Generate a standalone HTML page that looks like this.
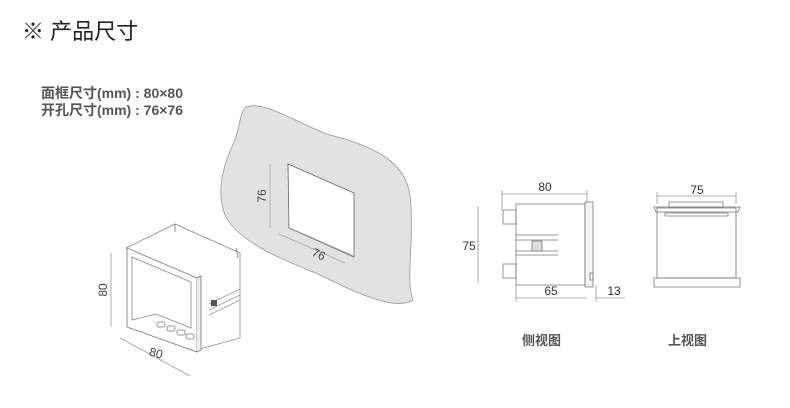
<!DOCTYPE html>
<html><head><meta charset="utf-8"><style>
body{margin:0;background:#fff;width:790px;height:408px;overflow:hidden;position:relative;font-family:"Liberation Sans","Noto Sans CJK SC",sans-serif}
.t{position:absolute;color:#333}
</style></head><body>
<div class="t" style="left:22px;top:14px;font-size:22px;color:#222">※ 产品尺寸</div>
<div class="t" style="left:41px;top:85px;font-size:14px;font-weight:bold;color:#555;line-height:17px">面框尺寸(mm) : 80×80<br>开孔尺寸(mm) : 76×76</div>
<div class="t" style="left:522px;top:330px;font-size:13px;font-weight:bold;color:#555">侧视图</div>
<div class="t" style="left:668px;top:330px;font-size:13px;font-weight:bold;color:#555">上视图</div>
<svg width="790" height="408" style="position:absolute;left:0;top:0" font-family="Liberation Sans,sans-serif" fill="none" stroke="#777" stroke-width="0.8">
<path d="M246,107 C265,100 300,125 330,135 C370,145 405,160 410,195 C415,240 405,280 413,300 C395,312 350,290 320,275 C290,262 240,245 225,215 C215,190 225,160 235,140 C240,125 240,112 246,107 Z" fill="#e2e2e2" stroke="#999"/>
<path d="M288,164 L354,193 L354,257 L289,228 Z" fill="#fff" stroke="#666"/>
<path d="M290,228 L354,256" stroke="#aaa"/>
<line x1="270" y1="164" x2="270" y2="228" stroke="#aaa"/>
<line x1="279" y1="234" x2="345" y2="263" stroke="#aaa"/>
<text x="0" y="0" transform="translate(266,196) rotate(-90)" font-size="12" fill="#444" stroke="none" text-anchor="middle">76</text>
<text x="0" y="0" transform="translate(317,258) rotate(24)" font-size="12" fill="#444" stroke="none" text-anchor="middle">76</text>
<path d="M126,248 L175,224 L240,253 L240,338 L196,350" stroke="#888"/>
<path d="M175,224 L175,232" />
<path d="M236,248 L238,258"/>
<path d="M127,248 L197,278 L197,352 L127,327 Z" fill="#fff" stroke="#777"/>
<path d="M197,278 L201,276 L201,350 L197,352" fill="#eee"/>
<path d="M132,257 L191,282 L191,328 L156,314 L132,320 Z" stroke="#888"/>
<g fill="#fff" stroke="#777"><rect x="157" y="322" width="8" height="5" rx="2"/><rect x="167" y="326" width="8" height="5" rx="2"/><rect x="177" y="330" width="8" height="5" rx="2"/><rect x="186" y="334" width="8" height="5" rx="2"/></g>
<path d="M209,304 L240,289 M209,310 L240,295 M209,315 L240,300" stroke="#999"/>
<rect x="211" y="300" width="6" height="6" fill="#555" stroke="none"/>
<line x1="111" y1="253" x2="111" y2="327" stroke="#999"/>
<line x1="120" y1="338" x2="190" y2="376" stroke="#999"/>
<text x="0" y="0" transform="translate(107,290) rotate(-90)" font-size="12" fill="#444" stroke="none" text-anchor="middle">80</text>
<text x="155" y="357" font-size="12" fill="#444" stroke="none" transform="rotate(15 155 357)" text-anchor="middle">80</text>
<path d="M516,204 L585,204 L585,285 L516,285 Z" stroke="#777"/>
<path d="M503,210 L516,210 L516,224 L503,224 Z M503,264 L516,264 L516,278 L503,278 Z"/>
<path d="M516,235 L558,235 M516,240 L558,240 M516,251 L558,251 M516,255 L558,255"/>
<path d="M532,241 L542,241 L542,251 L532,251 Z" fill="#ddd"/>
<path d="M585,202 L593,202 L593,287 L585,287 Z" fill="#f4f4f4"/>
<rect x="590" y="273" width="3" height="7"/>
<line x1="502" y1="194" x2="587" y2="194" stroke="#999"/>
<line x1="478" y1="206" x2="478" y2="283" stroke="#999"/>
<line x1="516" y1="298" x2="587" y2="298" stroke="#999"/>
<line x1="596" y1="298" x2="625" y2="298" stroke="#999"/>
<line x1="502" y1="190" x2="502" y2="210" stroke="#999"/><line x1="587" y1="190" x2="587" y2="202" stroke="#999"/>
<line x1="516" y1="285" x2="516" y2="302" stroke="#999"/><line x1="596" y1="285" x2="596" y2="302" stroke="#999"/>
<text x="545" y="191" font-size="12" fill="#333" stroke="none" text-anchor="middle">80</text>
<text x="469" y="250" font-size="12" fill="#333" stroke="none" text-anchor="middle">75</text>
<text x="551" y="295" font-size="12" fill="#333" stroke="none" text-anchor="middle">65</text>
<text x="614" y="295" font-size="12" fill="#333" stroke="none" text-anchor="middle">13</text>
<path d="M657,208 L736,208 L736,278 L657,278 Z" stroke="#777"/>
<path d="M654,207 L740,207 L738,212 L656,212 Z"/>
<path d="M669,202 L723,202 L723,207 L669,207 Z"/>
<path d="M665,213 L728,213 L728,216 L665,216 Z"/>
<path d="M654,278 L740,278 L740,287 L654,287 Z"/>
<line x1="657" y1="196" x2="736" y2="196" stroke="#999"/>
<line x1="657" y1="192" x2="657" y2="204" stroke="#999"/><line x1="736" y1="192" x2="736" y2="204" stroke="#999"/>
<text x="697" y="194" font-size="12" fill="#333" stroke="none" text-anchor="middle">75</text>
</svg>
</body></html>
